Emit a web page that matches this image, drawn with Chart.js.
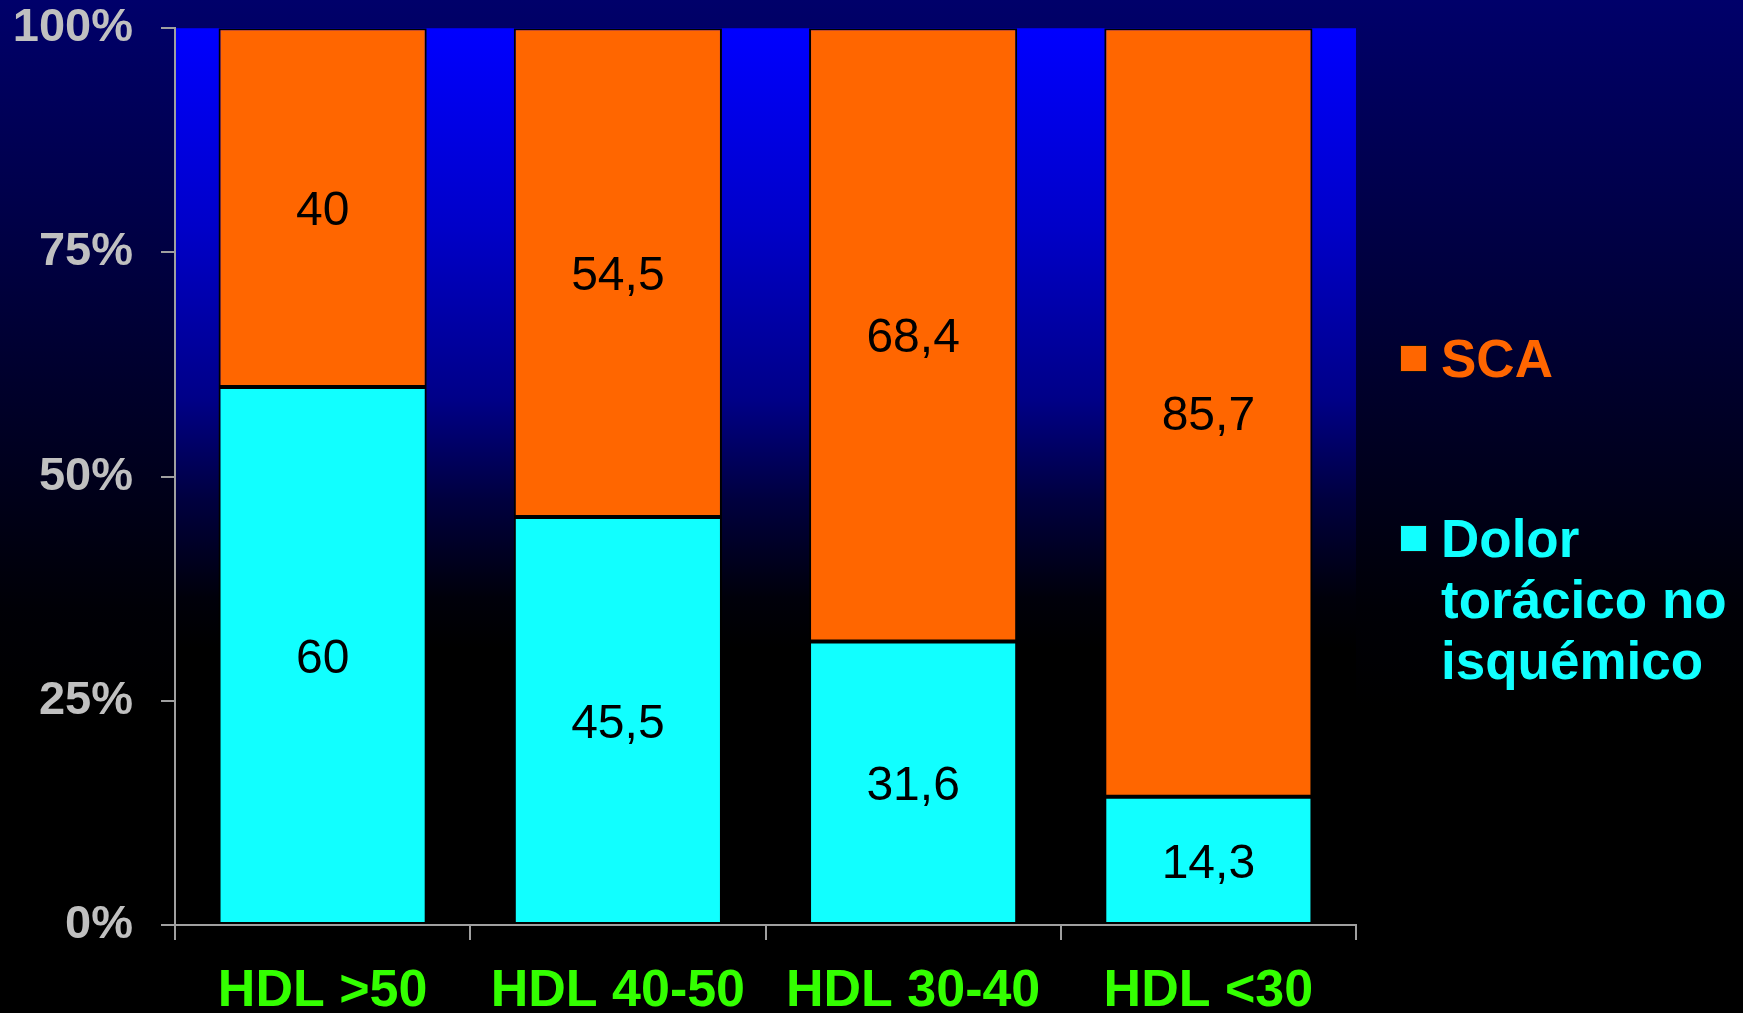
<!DOCTYPE html>
<html>
<head>
<meta charset="utf-8">
<title>HDL - SCA / Dolor torácico</title>
<script src="https://cdn.jsdelivr.net/npm/chart.js@4.4.1/dist/chart.umd.min.js"></script>
<style>
  html, body { margin: 0; padding: 0; background: #000; }
  #wrap { width: 1743px; height: 1013px; }
</style>
</head>
<body>
<div id="wrap"><canvas id="hdl-chart" width="1743" height="1013"></canvas></div>
<script>
// categorias y series (porcentajes)
var categorias = ['HDL >50', 'HDL 40-50', 'HDL 30-40', 'HDL <30'];
var dolorNoIsq = [60, 45.5, 31.6, 14.3];
var sca = [40, 54.5, 68.4, 85.7];
var yTicks = [0, 25, 50, 75, 100];

var FONT = "'Liberation Sans', Arial, sans-serif";
var colorSca = '#ff6600';
var colorDolor = '#11ffff';

// fondo de la diapositiva y degradado azul dentro del area del grafico
var fondoPlugin = {
    id: 'fondo',
    beforeDraw: function(chart) {
        var ctx = chart.ctx;
        var area = chart.chartArea;
        ctx.save();
        var g = ctx.createLinearGradient(0, 0, 0, chart.height);
        g.addColorStop(0, '#00006a');
        g.addColorStop(0.2, '#00004a');
        g.addColorStop(0.4, '#000028');
        g.addColorStop(0.6, '#000006');
        g.addColorStop(0.7, '#000000');
        g.addColorStop(1, '#000000');
        ctx.fillStyle = g;
        ctx.fillRect(0, 0, chart.width, chart.height);

        var h = area.bottom - area.top;
        var g2 = ctx.createLinearGradient(0, area.top, 0, area.bottom);
        g2.addColorStop(0, '#0000ff');
        g2.addColorStop(200 / h, '#0000c8');
        g2.addColorStop(370 / h, '#000088');
        g2.addColorStop(470 / h, '#000040');
        g2.addColorStop(570 / h, '#00000a');
        g2.addColorStop(620 / h, '#000000');
        g2.addColorStop(1, '#000000');
        ctx.fillStyle = g2;
        ctx.fillRect(area.left, area.top, area.right - area.left, h);
        ctx.restore();
    }
};

// valores dentro de cada segmento
var etiquetasPlugin = {
    id: 'etiquetas',
    afterDatasetsDraw: function(chart) {
        var ctx = chart.ctx;
        ctx.save();
        ctx.font = '48px ' + FONT;
        ctx.fillStyle = '#000';
        ctx.textAlign = 'center';
        ctx.textBaseline = 'middle';
        chart.data.datasets.forEach(function(ds, i) {
            var meta = chart.getDatasetMeta(i);
            meta.data.forEach(function(bar, j) {
                var p = bar.getProps(['x', 'y', 'base'], true);
                var txt = String(ds.data[j]).replace('.', ',');
                ctx.fillText(txt, p.x, (p.y + p.base) / 2 + 4);
            });
        });
        ctx.restore();
    }
};

// leyenda a la derecha
var leyendaPlugin = {
    id: 'leyenda',
    afterDraw: function(chart) {
        var ctx = chart.ctx;
        var items = [
            { ds: 1, lineas: ['SCA'], y: 377 },
            { ds: 0, lineas: ['Dolor', 'torácico no', 'isquémico'], y: 557 }
        ];
        ctx.save();
        ctx.font = 'bold 53px ' + FONT;
        ctx.textAlign = 'left';
        ctx.textBaseline = 'alphabetic';
        items.forEach(function(it) {
            var color = chart.data.datasets[it.ds].backgroundColor;
            ctx.fillStyle = color;
            ctx.fillRect(1400, it.y - 32, 27, 27);
            ctx.strokeStyle = '#111';
            ctx.lineWidth = 1;
            ctx.strokeRect(1400.5, it.y - 31.5, 26, 26);
            ctx.fillStyle = color;
            it.lineas.forEach(function(l, k) {
                ctx.fillText(l, 1441, it.y + k * 61);
            });
        });
        ctx.restore();
    }
};

var ctx = document.getElementById('hdl-chart').getContext('2d');
var grafico = new Chart(ctx, {
    type: 'bar',
    data: {
        labels: categorias,
        datasets: [
            {
                label: 'Dolor torácico no isquémico',
                data: dolorNoIsq,
                backgroundColor: colorDolor,
                borderColor: '#000',
                borderWidth: 2,
                borderSkipped: false,
                categoryPercentage: 1,
                barPercentage: 0.705
            },
            {
                label: 'SCA',
                data: sca,
                backgroundColor: colorSca,
                borderColor: '#000',
                borderWidth: 2,
                borderSkipped: false,
                categoryPercentage: 1,
                barPercentage: 0.705
            }
        ]
    },
    options: {
        responsive: false,
        animation: false,
        layout: {
            padding: { top: 28, right: 387, left: 0, bottom: 0 }
        },
        plugins: {
            legend: { display: false },
            tooltip: { enabled: false }
        },
        scales: {
            x: {
                stacked: true,
                offset: true,
                afterFit: function(s) { s.height = 88; },
                grid: {
                    offset: true,
                    drawOnChartArea: false,
                    drawTicks: true,
                    tickLength: 15,
                    color: '#a0a0a0',
                    lineWidth: 2
                },
                border: { display: true, color: '#a0a0a0', width: 2 },
                ticks: {
                    color: '#33ff00',
                    font: { family: FONT, size: 52, weight: 'bold' },
                    padding: 20,
                    autoSkip: false,
                    maxRotation: 0
                }
            },
            y: {
                stacked: true,
                min: 0,
                max: 100,
                afterFit: function(s) { s.width = 175; },
                afterBuildTicks: function(s) {
                    s.ticks = yTicks.map(function(v) { return { value: v }; });
                },
                grid: {
                    drawOnChartArea: false,
                    drawTicks: true,
                    tickLength: 14,
                    color: '#a0a0a0',
                    lineWidth: 2
                },
                border: { display: true, color: '#a0a0a0', width: 2 },
                ticks: {
                    color: '#c0c0c0',
                    // lineHeight pequeño para que la etiqueta 100% no empuje el area hacia abajo
                    font: { family: FONT, size: 47, weight: 'bold', lineHeight: 0.01 },
                    padding: 28,
                    callback: function(v) { return v + '%'; }
                }
            }
        }
    },
    plugins: [fondoPlugin, etiquetasPlugin, leyendaPlugin]
});
</script>
</body>
</html>
